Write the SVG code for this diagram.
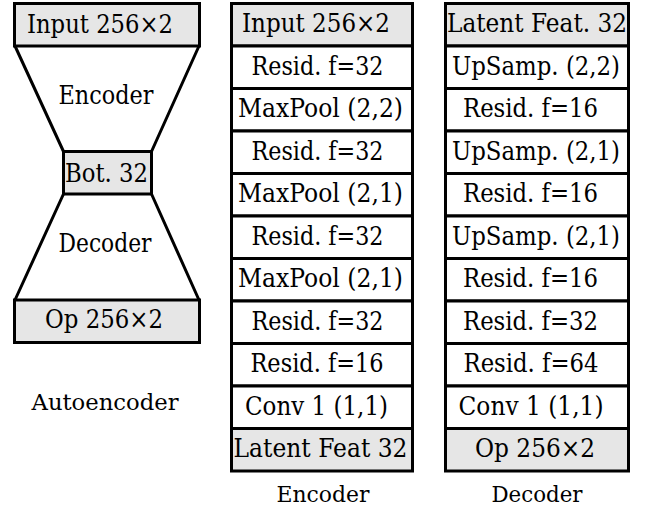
<svg xmlns="http://www.w3.org/2000/svg" width="648" height="508" viewBox="0 0 648 508">
<style>
  .box { stroke: #000; stroke-width: 3; }
  .g { fill: #e6e6e6; }
  .w { fill: #ffffff; }
  .edge { stroke: #000; stroke-width: 3; fill: none; stroke-linecap: round; }
  text { font-family: "DejaVu Serif", "Liberation Serif", "Noto Serif", "Times New Roman", Times, serif; font-size: 25.5px; fill: #000; text-anchor: middle; }
  .lbl { font-size: 22.5px; }
</style>
<rect x="0" y="0" width="648" height="508" fill="#ffffff"/>

<!-- Autoencoder overview -->
<g id="connectors">
  <line class="edge" x1="15" y1="46" x2="63.5" y2="151.5"/>
  <line class="edge" x1="199" y1="46" x2="151.5" y2="151.5"/>
  <line class="edge" x1="63.5" y1="194" x2="15" y2="300"/>
  <line class="edge" x1="151.5" y1="194" x2="199" y2="300"/>
</g>
<g id="ae-input"><rect class="box g" x="14.5" y="3.5" width="185" height="42.5"/><text x="100" y="33" textLength="146" lengthAdjust="spacingAndGlyphs">Input 256×2</text></g>
<g id="ae-encoder"><text x="106" y="103.5" textLength="95" lengthAdjust="spacingAndGlyphs">Encoder</text></g>
<g id="ae-bottleneck"><rect class="box g" x="63.5" y="151.5" width="88" height="42.5"/><text x="106.5" y="181.5" textLength="83" lengthAdjust="spacingAndGlyphs">Bot. 32</text></g>
<g id="ae-decoder"><text x="105" y="251.5" textLength="93" lengthAdjust="spacingAndGlyphs">Decoder</text></g>
<g id="ae-output"><rect class="box g" x="14.5" y="300" width="185" height="42.5"/><text x="104" y="327.5" textLength="118" lengthAdjust="spacingAndGlyphs">Op 256×2</text></g>
<g id="ae-label"><text class="lbl" x="105" y="410" textLength="147" lengthAdjust="spacingAndGlyphs">Autoencoder</text></g>

<!-- Encoder column -->
<g id="enc-0"><rect class="box g" x="231.5" y="3.5" width="181" height="42.5"/><text x="316" y="32" textLength="148" lengthAdjust="spacingAndGlyphs">Input 256×2</text></g>
<g id="enc-1"><rect class="box w" x="231.5" y="46" width="181" height="42.5"/><text x="317.5" y="74.5" textLength="132" lengthAdjust="spacingAndGlyphs">Resid. f=32</text></g>
<g id="enc-2"><rect class="box w" x="231.5" y="88.5" width="181" height="42.5"/><text x="320.5" y="117" textLength="165" lengthAdjust="spacingAndGlyphs">MaxPool (2,2)</text></g>
<g id="enc-3"><rect class="box w" x="231.5" y="131" width="181" height="42.5"/><text x="317.5" y="159.5" textLength="132" lengthAdjust="spacingAndGlyphs">Resid. f=32</text></g>
<g id="enc-4"><rect class="box w" x="231.5" y="173.5" width="181" height="42.5"/><text x="320.5" y="202" textLength="165" lengthAdjust="spacingAndGlyphs">MaxPool (2,1)</text></g>
<g id="enc-5"><rect class="box w" x="231.5" y="216" width="181" height="42.5"/><text x="317.5" y="244.5" textLength="132" lengthAdjust="spacingAndGlyphs">Resid. f=32</text></g>
<g id="enc-6"><rect class="box w" x="231.5" y="258.5" width="181" height="42.5"/><text x="320.5" y="287" textLength="165" lengthAdjust="spacingAndGlyphs">MaxPool (2,1)</text></g>
<g id="enc-7"><rect class="box w" x="231.5" y="301" width="181" height="42.5"/><text x="317.5" y="329.5" textLength="132" lengthAdjust="spacingAndGlyphs">Resid. f=32</text></g>
<g id="enc-8"><rect class="box w" x="231.5" y="343.5" width="181" height="42.5"/><text x="317" y="372" textLength="133" lengthAdjust="spacingAndGlyphs">Resid. f=16</text></g>
<g id="enc-9"><rect class="box w" x="231.5" y="386" width="181" height="42.5"/><text x="316.5" y="414.5" textLength="143" lengthAdjust="spacingAndGlyphs">Conv 1 (1,1)</text></g>
<g id="enc-10"><rect class="box g" x="231.5" y="428.5" width="181" height="42.5"/><text x="320.5" y="457" textLength="174" lengthAdjust="spacingAndGlyphs">Latent Feat 32</text></g>
<g id="enc-label"><text class="lbl" x="323" y="501.5" textLength="93" lengthAdjust="spacingAndGlyphs">Encoder</text></g>

<!-- Decoder column -->
<g id="dec-0"><rect class="box g" x="445.5" y="3.5" width="183" height="42.5"/><text x="537" y="32" textLength="180" lengthAdjust="spacingAndGlyphs">Latent Feat. 32</text></g>
<g id="dec-1"><rect class="box w" x="445.5" y="46" width="183" height="42.5"/><text x="536" y="74.5" textLength="168" lengthAdjust="spacingAndGlyphs">UpSamp. (2,2)</text></g>
<g id="dec-2"><rect class="box w" x="445.5" y="88.5" width="183" height="42.5"/><text x="530.5" y="117" textLength="135" lengthAdjust="spacingAndGlyphs">Resid. f=16</text></g>
<g id="dec-3"><rect class="box w" x="445.5" y="131" width="183" height="42.5"/><text x="536" y="159.5" textLength="168" lengthAdjust="spacingAndGlyphs">UpSamp. (2,1)</text></g>
<g id="dec-4"><rect class="box w" x="445.5" y="173.5" width="183" height="42.5"/><text x="530.5" y="202" textLength="135" lengthAdjust="spacingAndGlyphs">Resid. f=16</text></g>
<g id="dec-5"><rect class="box w" x="445.5" y="216" width="183" height="42.5"/><text x="536" y="244.5" textLength="168" lengthAdjust="spacingAndGlyphs">UpSamp. (2,1)</text></g>
<g id="dec-6"><rect class="box w" x="445.5" y="258.5" width="183" height="42.5"/><text x="530.5" y="287" textLength="135" lengthAdjust="spacingAndGlyphs">Resid. f=16</text></g>
<g id="dec-7"><rect class="box w" x="445.5" y="301" width="183" height="42.5"/><text x="530.5" y="329.5" textLength="135" lengthAdjust="spacingAndGlyphs">Resid. f=32</text></g>
<g id="dec-8"><rect class="box w" x="445.5" y="343.5" width="183" height="42.5"/><text x="531" y="372" textLength="135" lengthAdjust="spacingAndGlyphs">Resid. f=64</text></g>
<g id="dec-9"><rect class="box w" x="445.5" y="386" width="183" height="42.5"/><text x="531" y="414.5" textLength="145" lengthAdjust="spacingAndGlyphs">Conv 1 (1,1)</text></g>
<g id="dec-10"><rect class="box g" x="445.5" y="428.5" width="183" height="42.5"/><text x="535" y="457" textLength="120" lengthAdjust="spacingAndGlyphs">Op 256×2</text></g>
<g id="dec-label"><text class="lbl" x="537" y="501.5" textLength="91" lengthAdjust="spacingAndGlyphs">Decoder</text></g>
</svg>
